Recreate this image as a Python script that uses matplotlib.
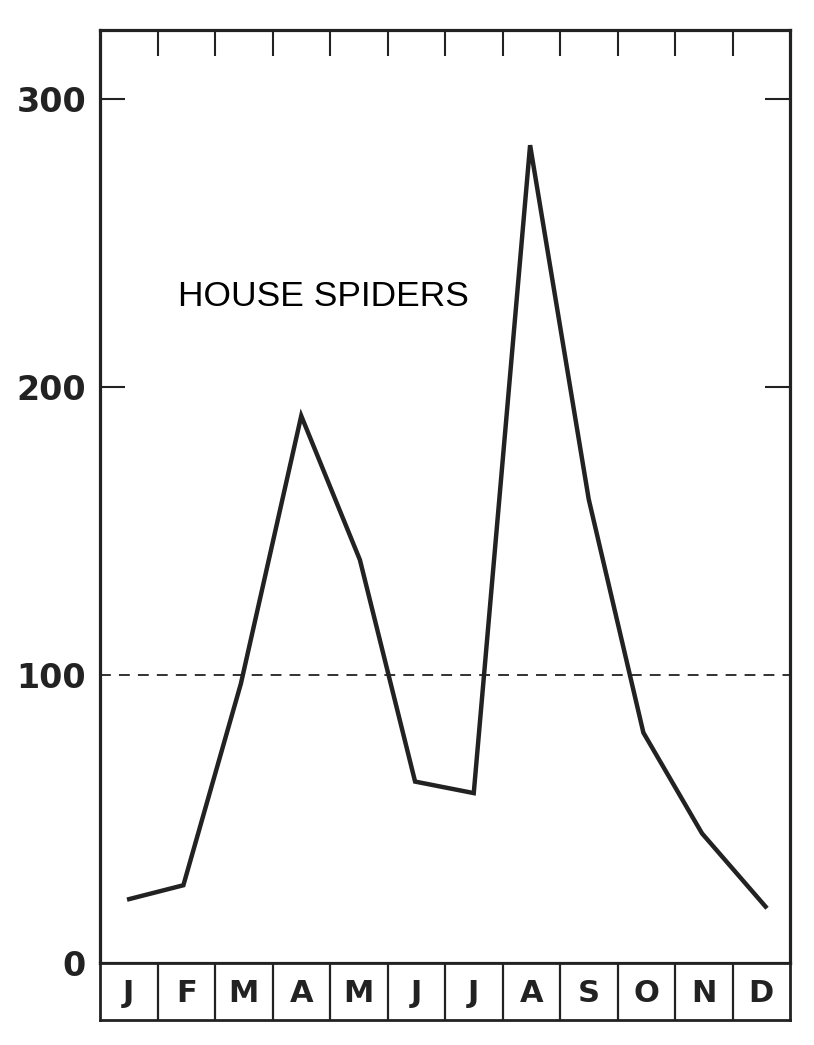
import numpy as np
import matplotlib.pyplot as plt

MONTHS = ['J', 'F', 'M', 'A', 'M', 'J', 'J', 'A', 'S', 'O', 'N', 'D']
# x position of each point in month units (0 = left edge of Jan box)
month_pos = [0.47, 1.45, 2.45, 3.5, 4.52, 5.48, 6.5, 7.48, 8.5, 9.45, 10.47, 11.6]
spiders = [22, 27, 97, 190, 140, 63, 59, 284, 161, 80, 45, 19]
yticks = [0, 100, 200, 300]
ytick_labels = ['0', '100', '200', '300']

W, H = 814, 1045
fig = plt.figure(figsize=(W / 100, H / 100), dpi=100)

left, right = 100 / W, 790 / W
top, mid, bottom = 1 - 30 / H, 1 - 963 / H, 1 - 1020 / H

ax = fig.add_axes([left, mid, right - left, top - mid])
axm = fig.add_axes([left, bottom, right - left, mid - bottom])

ink = '#222222'

ax.plot(month_pos, spiders, color=ink, lw=3.2, solid_joinstyle='miter', solid_capstyle='butt')
ax.axhline(100, color=ink, lw=1.3, ls=(0, (6, 4.5)))

ax.set_xlim(0, 12)
ax.set_ylim(0, 324)
for s in ax.spines.values():
  s.set_linewidth(2.3)
  s.set_color(ink)

ax.set_yticks(yticks)
ax.set_yticklabels(ytick_labels, fontsize=24, fontweight='bold', color=ink)
ax.tick_params(axis='y', direction='in', length=18, width=1.5, color=ink, pad=10, right=True)
for i in (0, 1):
  ax.yaxis.get_major_ticks()[i].tick1line.set_visible(False)
  ax.yaxis.get_major_ticks()[i].tick2line.set_visible(False)

ax.set_xticks(np.arange(1, 12))
ax.tick_params(axis='x', direction='in', length=19, width=1.5, color=ink,
               top=True, bottom=False, labelbottom=False)

ax.text(1.36, 228, 'HOUSE SPIDERS', fontsize=25.5, family='Liberation Sans', color='black')

# month boxes
axm.set_xlim(0, 12)
axm.set_ylim(0, 1)
for i in range(1, 12):
  axm.axvline(i, color=ink, lw=1.6)
for i, m in enumerate(MONTHS):
  axm.text(i + 0.5, 0.47, m, ha='center', va='center', fontsize=22, fontweight='bold', color=ink)
for s in axm.spines.values():
  s.set_linewidth(2.0)
  s.set_color(ink)
axm.set_xticks([])
axm.set_yticks([])

fig.savefig('out.png', dpi=100)
